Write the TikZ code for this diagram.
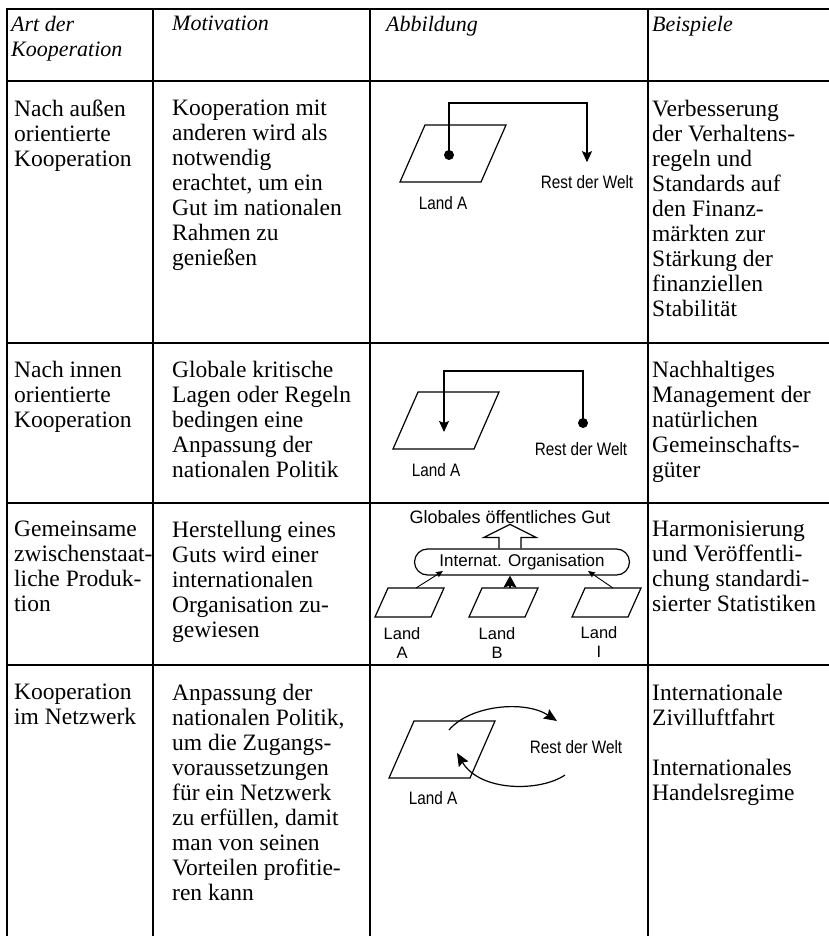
\documentclass[tikz,border=0pt]{standalone}
\usepackage{fontspec}
\usepackage{tikz}
\usetikzlibrary{arrows.meta}
\setmainfont{Liberation Serif}
\newfontfamily\condsans[FakeStretch=0.85]{Liberation Sans}
\newfontfamily\plainsans{Liberation Sans}
\newcommand{\cellfont}{\fontsize{23.5}{25}\selectfont}
\tikzset{tableline/.style = {line width=2.4pt, line cap=rect},
         celltext/.style = {anchor=north west, align=left, inner sep=0pt, font=\cellfont},
         headtext/.style = {celltext, font=\fontsize{22}{25}\selectfont\itshape},
         figline/.style = {line width=1.2pt},
         thinline/.style = {line width=0.9pt},
         figlabel/.style = {inner sep=0pt, font=\condsans\fontsize{18}{20}\selectfont},
         smalllabel/.style = {inner sep=0pt, align=center, font=\plainsans\fontsize{16.5}{19}\selectfont},
         globlabel/.style = {inner sep=0pt, font=\plainsans\fontsize{18}{20}\selectfont},
         orgbox/.style = {draw, figline, rounded corners=13pt, minimum width=215pt,
                          minimum height=26pt, inner sep=0pt,
                          font=\plainsans\fontsize{17}{19}\selectfont},
         bigtip/.style = {-{Stealth[length=11pt, width=10pt, inset=2pt]}},
         midtip/.style = {-{Stealth[length=12pt, width=13pt, inset=2pt]}},
         smalltip/.style = {-{Stealth[length=7pt, width=6pt, inset=1pt]}},
         curvetip/.style = {-{Stealth[length=13pt, width=11pt, inset=2pt]}},
         land/.pic = {\draw [figline] (0,0) -- (81,0) -- (106,-57) -- (25,-57) -- cycle;
                      \coordinate (-c) at (53,-28);},
         smallland/.pic = {\draw [figline] (0,0) -- (56,0) -- (69,-29) -- (13,-29) -- cycle;
                           \coordinate (-n) at (41,-29);}}

\begin{document}
\begin{tikzpicture}[x=1pt, y=-1pt]
  \useasboundingbox (0,0) rectangle (829,936);

  % table rules
  \foreach \x in {7,153,370,648}
    \draw [tableline] (\x,9) -- (\x,936);
  \foreach \y in {9,81,343,503,665}
    \draw [tableline] (7,\y) -- (829,\y);

  % header
  \node [headtext] (hArt) at (11,16) {Art der\\Kooperation};
  \node [headtext] (hMot) at (172,16) {Motivation};
  \node [headtext] (hAbb) at (386,16) {Abbildung};
  \node [headtext] (hBsp) at (652,16) {Beispiele};

  % row 1
  \node [celltext] (art1) at (14,100) {Nach außen\\orientierte\\Kooperation};
  \node [celltext] (mot1) at (172,100) {Kooperation mit\\anderen wird als\\notwendig\\erachtet, um ein\\Gut im nationalen\\Rahmen zu\\genießen};
  \node [celltext] (bsp1) at (652,100) {Verbesserung\\der Verhaltens-\\regeln und\\Standards auf\\den Finanz-\\märkten zur\\Stärkung der\\finanziellen\\Stabilität};

  \pic (landA1) at (400,182) {land};
  \node [figlabel] (lblA1) at (443,203) {Land A};
  \node [figlabel] (rest1) at (587,182) {Rest der Welt};
  \coordinate (dot1) at (449,155);
  \coordinate (top1) at (587,103);
  \fill (dot1) circle (5);
  \draw [figline, bigtip, shorten >=13pt] (dot1) |- (top1) -- (rest1.north);

  % row 2
  \node [celltext] (art2) at (14,361) {Nach innen\\orientierte\\Kooperation};
  \node [celltext] (mot2) at (172,361) {Globale kritische\\Lagen oder Regeln\\bedingen eine\\Anpassung der\\nationalen Politik};
  \node [celltext] (bsp2) at (652,361) {Nachhaltiges\\Management der\\natürlichen\\Gemeinschafts-\\güter};

  \pic (landA2) at (393,449) {land};
  \node [figlabel] (lblA2) at (436,470) {Land A};
  \node [figlabel] (rest2) at (581,449) {Rest der Welt};
  \coordinate (dot2) at (583,423);
  \coordinate (top2) at (444,371);
  \coordinate (in2) at (444,432);
  \fill (dot2) circle (5);
  \draw [figline, bigtip] (dot2) |- (top2) -- (in2);

  % row 3
  \node [celltext] (art3) at (14,521) {Gemeinsame\\zwischenstaat-\\liche Produk-\\tion};
  \node [celltext] (mot3) at (172,521) {Herstellung eines\\Guts wird einer\\internationalen\\Organisation zu-\\gewiesen};
  \node [celltext] (bsp3) at (652,521) {Harmonisierung\\und Veröffentli-\\chung standardi-\\sierter Statistiken};

  \node [globlabel] (glob) at (510,517) {Globales öffentliches Gut};
  \node [orgbox] (org) at (522,562) {Internat. Organisation};
  \draw [figline] (glob.south |- org.north) ++(-11,0) -- ++(0,-11) -- ++(-15,0)
    -- ++(26,-13) -- ++(26,13) -- ++(-15,0) -- ++(0,11);
  \pic (landA3) at (375,617) {smallland};
  \pic (landB3) at (469,617) {smallland};
  \pic (landI3) at (572,617) {smallland};
  \node [smalllabel] (lblA3) at (402,643) {Land\\A};
  \node [smalllabel] (lblB3) at (497,643) {Land\\B};
  \node [smalllabel] (lblI3) at (599,642) {Land\\I};
  \coordinate (inA3) at (443,571);
  \coordinate (inI3) at (588,571);
  \draw [thinline, smalltip] (landA3-n) -- (inA3);
  \draw [figline, midtip] (landB3-n) -- (landB3-n |- org.south);
  \draw [thinline, smalltip] (landI3-n) -- (inI3);

  % row 4
  \node [celltext] (art4) at (14,684) {Kooperation\\im Netzwerk};
  \node [celltext] (mot4) at (172,684) {Anpassung der\\nationalen Politik,\\um die Zugangs-\\voraussetzungen\\für ein Netzwerk\\zu erfüllen, damit\\man von seinen\\Vorteilen profitie-\\ren kann};
  \node [celltext] (bsp4) at (652,684) {Internationale\\Zivilluftfahrt\\[25pt]Internationales\\Handelsregime};

  \pic (landA4) at (389,778) {land};
  \node [figlabel] (lblA4) at (433,798) {Land A};
  \node [figlabel] (rest4) at (576,747) {Rest der Welt};
  \coordinate (out4) at (449,730);
  \coordinate (to4) at (557,721);
  \coordinate (back4) at (565,775);
  \coordinate (in4) at (457,753);
  \draw [figline, curvetip] (out4) .. controls (470,705) and (525,700) .. (to4);
  \draw [figline, curvetip] (back4) .. controls (540,792) and (480,792) .. (in4);
\end{tikzpicture}
\end{document}
